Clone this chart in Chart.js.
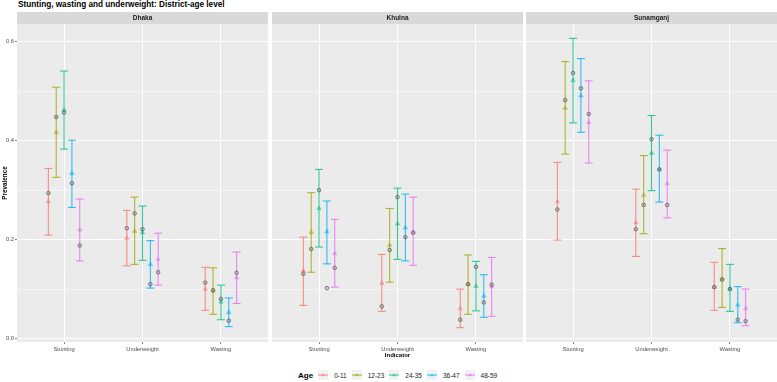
<!DOCTYPE html>
<html>
<head>
<meta charset="utf-8">
<script src="https://cdn.jsdelivr.net/npm/chart.js@4.4.1/dist/chart.umd.min.js"></script>
<style>
    html, body { margin: 0; padding: 0; background: #fff; }
    #wrap { position: relative; width: 777px; height: 382px; font-family: "Liberation Sans", Arial, sans-serif; }
    #title { position: absolute; left: 18px; top: 0; font-size: 8.2px; line-height: 9px; font-weight: bold; color: #000; white-space: nowrap; }
    .panel { position: absolute; top: 12px; height: 350px; }
    #legend { position: absolute; left: 298px; top: 369px; height: 12px; display: flex; align-items: center; color: #1a1a1a; font-size: 6.5px; white-space: nowrap; }
    #legend .ttl { font-size: 8px; font-weight: bold; color: #000; margin-right: 5px; }
    #legend svg { display: block; margin-right: 6px; }
    #legend .lab { margin-right: 5px; }
</style>
</head>
<body>
<div id="wrap">
    <div id="title">Stunting, wasting and underweight: District-age level</div>
    <div class="panel" style="left:0;width:268px"><canvas id="p0"></canvas></div>
    <div class="panel" style="left:272px;width:251px"><canvas id="p1"></canvas></div>
    <div class="panel" style="left:526px;width:251px"><canvas id="p2"></canvas></div>
    <div id="legend"></div>
</div>
<script>
const districts = ['Dhaka', 'Khulna', 'Sunamganj'];
const indicators = ['Stunting', 'Underweight', 'Wasting'];
const ages = ['0-11', '12-23', '24-35', '36-47', '48-59'];
const yTicks = [0, 0.2, 0.4, 0.6];
const yTickLabels = ['0.0', '0.2', '0.4', '0.6'];
const yMinorTicks = [0.1, 0.3, 0.5];

// rows = age groups, columns = Stunting, Underweight, Wasting
const dhakaTri  = [[0.277, 0.203, 0.100], [0.417, 0.217, 0.096], [0.462, 0.214, 0.074], [0.334, 0.150, 0.053], [0.220, 0.160, 0.123]];
const dhakaCirc = [[0.294, 0.223, 0.113], [0.448, 0.253, 0.098], [0.457, 0.221, 0.080], [0.314, 0.110, 0.036], [0.188, 0.134, 0.133]];
const dhakaLow  = [[0.209, 0.147, 0.057], [0.326, 0.150, 0.049], [0.383, 0.158, 0.038], [0.265, 0.102, 0.024], [0.157, 0.108, 0.071]];
const dhakaHigh = [[0.344, 0.259, 0.144], [0.508, 0.286, 0.143], [0.541, 0.268, 0.108], [0.401, 0.198, 0.082], [0.282, 0.213, 0.175]];

const khulnaTri  = [[0.137, 0.112, 0.061], [0.215, 0.189, 0.110], [0.263, 0.232, 0.106], [0.216, 0.224, 0.086], [0.172, 0.215, 0.105]];
const khulnaCirc = [[0.131, 0.065, 0.038], [0.181, 0.179, 0.110], [0.300, 0.286, 0.145], [0.102, 0.205, 0.073], [0.143, 0.214, 0.109]];
const khulnaLow  = [[0.067, 0.055, 0.022], [0.134, 0.114, 0.049], [0.185, 0.160, 0.056], [0.151, 0.157, 0.043], [0.104, 0.148, 0.045]];
const khulnaHigh = [[0.205, 0.170, 0.100], [0.295, 0.263, 0.169], [0.342, 0.304, 0.156], [0.278, 0.292, 0.129], [0.241, 0.286, 0.164]];

const sunamTri  = [[0.277, 0.234, 0.104], [0.466, 0.290, 0.121], [0.522, 0.375, 0.101], [0.491, 0.342, 0.068], [0.437, 0.313, 0.061]];
const sunamCirc = [[0.261, 0.221, 0.104], [0.482, 0.270, 0.119], [0.537, 0.403, 0.100], [0.506, 0.342, 0.038], [0.454, 0.270, 0.035]];
const sunamLow  = [[0.199, 0.166, 0.057], [0.373, 0.212, 0.063], [0.436, 0.299, 0.055], [0.417, 0.276, 0.032], [0.355, 0.244, 0.026]];
const sunamHigh = [[0.356, 0.302, 0.154], [0.560, 0.370, 0.182], [0.607, 0.451, 0.150], [0.566, 0.411, 0.105], [0.521, 0.381, 0.100]];

const colors = ['248,118,109', '163,165,0', '0,191,125', '0,176,246', '231,107,243'];
const fontFamily = '"Liberation Sans", Arial, sans-serif';
const dodge = 0.1;

const panelData = [
    [dhakaTri, dhakaCirc, dhakaLow, dhakaHigh],
    [khulnaTri, khulnaCirc, khulnaLow, khulnaHigh],
    [sunamTri, sunamCirc, sunamLow, sunamHigh]
];

// grey panel + facet strip
const panelPlugin = {
    id: 'panelBg',
    beforeDraw: function (chart, args, opts) {
        const ctx = chart.ctx;
        const a = chart.chartArea;
        ctx.save();
        ctx.fillStyle = '#EBEBEB';
        ctx.fillRect(a.left, a.top, a.right - a.left, a.bottom - a.top);
        ctx.fillStyle = '#D9D9D9';
        ctx.fillRect(a.left, a.top - 12, a.right - a.left, 12);
        ctx.fillStyle = '#1A1A1A';
        ctx.font = 'bold 6.5px ' + fontFamily;
        ctx.textAlign = 'center';
        ctx.textBaseline = 'middle';
        ctx.fillText(opts.label, (a.left + a.right) / 2, a.top - 6);
        ctx.restore();
    }
};

function buildDatasets(tri, circ, low, high) {
    const sets = [];
    ages.forEach(function (age, i) {
        const off = (i - 2) * dodge;
        const c = colors[i];
        const bars = [];
        indicators.forEach(function (ind, j) {
            bars.push({ x: j + 1 + off, y: low[i][j] });
            bars.push({ x: j + 1 + off, y: high[i][j] });
            bars.push({ x: j + 1 + off, y: null });
        });
        sets.push({
            type: 'line',
            label: age,
            data: bars,
            borderColor: 'rgba(' + c + ',0.8)',
            borderWidth: 1.1,
            pointStyle: 'line',
            pointRadius: 4,
            pointBorderWidth: 1.1,
            pointBorderColor: 'rgba(' + c + ',0.8)',
            spanGaps: false,
            fill: false,
            tension: 0,
            order: 3
        });
        sets.push({
            type: 'scatter',
            label: age,
            data: tri[i].map(function (v, j) { return { x: j + 1 + off, y: v }; }),
            pointStyle: 'triangle',
            pointRadius: 2.6,
            backgroundColor: 'rgba(' + c + ',0.55)',
            borderColor: 'rgba(' + c + ',0.55)',
            borderWidth: 0.5,
            order: 2
        });
        sets.push({
            type: 'scatter',
            label: age,
            data: circ[i].map(function (v, j) { return { x: j + 1 + off, y: v }; }),
            pointStyle: 'circle',
            pointRadius: 1.8,
            backgroundColor: 'rgba(120,120,120,0.25)',
            borderColor: 'rgba(80,80,80,0.85)',
            borderWidth: 0.8,
            order: 1
        });
    });
    return sets;
}

function isMajor(v) {
    return yTicks.some(function (t) { return Math.abs(t - v) < 1e-9; });
}

function makePanel(idx) {
    const d = panelData[idx];
    const first = idx === 0;
    new Chart(document.getElementById('p' + idx), {
        type: 'scatter',
        data: { datasets: buildDatasets(d[0], d[1], d[2], d[3]) },
        plugins: [panelPlugin],
        options: {
            responsive: true,
            maintainAspectRatio: false,
            animation: false,
            events: [],
            devicePixelRatio: 1,
            layout: { autoPadding: false, padding: { top: 12, left: 0, right: 0, bottom: 0 } },
            plugins: {
                legend: { display: false },
                tooltip: { enabled: false },
                panelBg: { label: districts[idx] }
            },
            scales: {
                x: {
                    type: 'linear',
                    min: 0.4,
                    max: 3.6,
                    afterBuildTicks: function (s) {
                        s.ticks = indicators.map(function (n, j) { return { value: j + 1 }; });
                    },
                    afterFit: function (s) { s.height = 20; },
                    ticks: {
                        autoSkip: false,
                        maxRotation: 0,
                        padding: 1.5,
                        color: '#4D4D4D',
                        font: { size: 5.8, family: fontFamily },
                        callback: function (v, i) { return indicators[i]; }
                    },
                    grid: { color: '#FFFFFF', lineWidth: 1, tickColor: '#333333', tickLength: 2, tickWidth: 0.6 },
                    border: { display: false },
                    title: {
                        display: idx === 1,
                        text: 'Indicator',
                        color: '#000',
                        font: { size: 6, weight: 'bold', family: fontFamily },
                        padding: { top: 0, bottom: 3 }
                    }
                },
                y: {
                    min: -0.007,
                    max: 0.636,
                    afterBuildTicks: function (s) {
                        s.ticks = yTicks.concat(yMinorTicks).sort().map(function (v) { return { value: v }; });
                    },
                    afterFit: function (s) { s.width = first ? 17 : 0; },
                    ticks: {
                        display: first,
                        padding: 1,
                        color: '#4D4D4D',
                        font: { size: 5.8, family: fontFamily },
                        callback: function (v) {
                            const k = yTicks.findIndex(function (t) { return Math.abs(t - v) < 1e-9; });
                            return k >= 0 ? yTickLabels[k] : '';
                        }
                    },
                    grid: {
                        color: '#FFFFFF',
                        drawTicks: first,
                        tickLength: 2,
                        tickWidth: 0.6,
                        lineWidth: function (ctx) { return ctx.tick && isMajor(ctx.tick.value) ? 1 : 0.5; },
                        tickColor: function (ctx) { return ctx.tick && isMajor(ctx.tick.value) ? '#333333' : 'rgba(0,0,0,0)'; }
                    },
                    border: { display: false },
                    title: {
                        display: first,
                        text: 'Prevalence',
                        color: '#000',
                        font: { size: 6.3, weight: 'bold', family: fontFamily },
                        padding: { top: 1.5, bottom: 0 }
                    }
                }
            }
        }
    });
}

function buildLegend() {
    const box = document.getElementById('legend');
    let html = '<span class="ttl">Age</span>';
    ages.forEach(function (age, i) {
        const c = 'rgb(' + colors[i] + ')';
        html += '<svg width="10" height="10"><rect width="10" height="10" fill="#F2F2F2"/>' +
            '<line x1="0" y1="5" x2="10" y2="5" stroke="' + c + '" stroke-width="0.9"/>' +
            '<polygon points="5,3.2 6.8,6.3 3.2,6.3" fill="' + c + '" fill-opacity="0.6"/></svg>' +
            '<span class="lab">' + age + '</span>';
    });
    box.innerHTML = html;
}

buildLegend();
[0, 1, 2].forEach(makePanel);
</script>
</body>
</html>
